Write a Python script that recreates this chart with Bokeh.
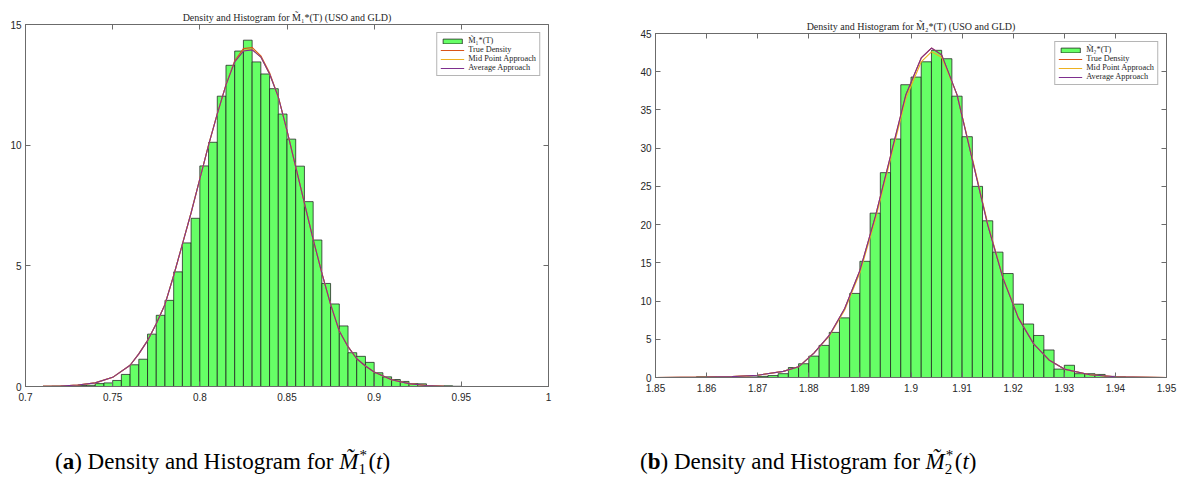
from bokeh.plotting import figure
from bokeh.models import (LinearAxis, Div, Legend, LegendItem, FixedTicker,
                          Range1d, CustomJSTickFormatter)
from bokeh.layouts import row, column
from bokeh.embed import file_html
from bokeh.resources import INLINE

# ---------------- Panel (a): M1 ----------------
m1_bin_width = 0.005
m1_bin_start = [0.710, 0.715, 0.720, 0.725, 0.730, 0.735, 0.740, 0.745, 0.750, 0.755,
                0.760, 0.765, 0.770, 0.775, 0.780, 0.785, 0.790, 0.795, 0.800, 0.805,
                0.810, 0.815, 0.820, 0.825, 0.830, 0.835, 0.840, 0.845, 0.850, 0.855,
                0.860, 0.865, 0.870, 0.875, 0.880, 0.885, 0.890, 0.895, 0.900, 0.905,
                0.910, 0.915, 0.920, 0.925, 0.930, 0.935, 0.940, 0.945]
m1_density = [0.01, 0.02, 0.01, 0.03, 0.04, 0.05, 0.12, 0.15, 0.25, 0.50,
              0.90, 1.13, 2.17, 2.95, 3.57, 4.75, 5.95, 6.97, 9.14, 10.12,
              12.03, 13.31, 13.90, 14.35, 13.45, 12.95, 12.34, 11.29, 10.25, 9.13,
              7.66, 6.07, 4.27, 3.42, 2.51, 1.40, 1.25, 1.00, 0.57, 0.40,
              0.29, 0.21, 0.12, 0.11, 0.02, 0.02, 0.03, 0.01]
m1_curve_x = [0.70, 0.71, 0.72, 0.73, 0.74, 0.75, 0.76, 0.765, 0.77, 0.775, 0.78, 0.785,
              0.79, 0.795, 0.80, 0.805, 0.81, 0.815, 0.82, 0.825, 0.83, 0.835, 0.84,
              0.845, 0.85, 0.855, 0.86, 0.865, 0.87, 0.875, 0.88, 0.885, 0.89, 0.895,
              0.90, 0.91, 0.92, 0.93, 0.94, 0.95, 1.00]
m1_true = [0.0, 0.005, 0.02, 0.06, 0.15, 0.38, 0.88, 1.35, 1.9, 2.6, 3.4, 4.6,
           5.9, 7.2, 8.6, 10.0, 11.3, 12.5, 13.5, 14.0, 14.05, 13.7, 13.0,
           12.0, 10.6, 9.1, 7.6, 6.1, 4.7, 3.4, 2.3, 1.65, 1.15, 0.85,
           0.6, 0.28, 0.12, 0.04, 0.01, 0.0, 0.0]
m1_mid = [0.0, 0.005, 0.02, 0.06, 0.15, 0.38, 0.88, 1.35, 1.9, 2.6, 3.4, 4.6,
          5.9, 7.2, 8.6, 10.0, 11.3, 12.5, 13.45, 13.92, 13.98, 13.65, 12.95,
          12.0, 10.6, 9.1, 7.6, 6.1, 4.7, 3.4, 2.3, 1.65, 1.15, 0.85,
          0.6, 0.28, 0.12, 0.04, 0.01, 0.0, 0.0]
m1_avg = [0.0, 0.005, 0.02, 0.06, 0.15, 0.38, 0.88, 1.35, 1.9, 2.6, 3.4, 4.6,
          5.9, 7.2, 8.6, 10.0, 11.3, 12.5, 13.45, 13.9, 13.95, 13.65, 12.95,
          12.0, 10.6, 9.1, 7.6, 6.1, 4.7, 3.4, 2.3, 1.65, 1.15, 0.85,
          0.6, 0.28, 0.12, 0.04, 0.01, 0.0, 0.0]
m1_xticks = [0.7, 0.75, 0.8, 0.85, 0.9, 0.95, 1.0]
m1_yticks = [0, 5, 10, 15]

# ---------------- Panel (b): M2 ----------------
m2_bin_width = 0.002
m2_bin_start = [1.858, 1.860, 1.862, 1.864, 1.866, 1.868, 1.870, 1.872, 1.874, 1.876,
                1.878, 1.880, 1.882, 1.884, 1.886, 1.888, 1.890, 1.892, 1.894, 1.896,
                1.898, 1.900, 1.902, 1.904, 1.906, 1.908, 1.910, 1.912, 1.914, 1.916,
                1.918, 1.920, 1.922, 1.924, 1.926, 1.928, 1.930, 1.932, 1.934, 1.936,
                1.938, 1.940]
m2_density = [0.1, 0.1, 0.0, 0.02, 0.05, 0.08, 0.15, 0.25, 0.5, 1.3,
              1.8, 2.8, 4.2, 5.9, 7.8, 11.0, 15.2, 21.5, 26.8, 31.2,
              38.3, 39.3, 41.3, 42.8, 41.7, 36.8, 31.5, 25.0, 20.5, 16.4,
              13.6, 9.6, 7.0, 5.5, 3.6, 1.1, 1.6, 0.5, 0.5, 0.4,
              0.15, 0.1]
m2_curve_x = [1.85, 1.86, 1.865, 1.87, 1.875, 1.878, 1.881, 1.884, 1.887, 1.89, 1.893,
              1.896, 1.899, 1.902, 1.904, 1.906, 1.909, 1.912, 1.915, 1.918, 1.921,
              1.924, 1.927, 1.93, 1.935, 1.94, 1.95]
m2_true = [0.0, 0.05, 0.12, 0.3, 0.8, 1.4, 3.2, 5.5, 9.0, 14.0, 21.0,
           29.0, 37.0, 41.8, 43.1, 42.2, 37.0, 28.5, 20.0, 13.0, 7.8,
           4.4, 2.3, 1.1, 0.35, 0.1, 0.0]
m2_mid = [0.0, 0.05, 0.12, 0.3, 0.8, 1.4, 3.2, 5.4, 8.8, 13.7, 20.6,
          28.6, 36.5, 41.3, 42.6, 41.9, 37.0, 28.7, 20.2, 13.1, 7.9,
          4.4, 2.3, 1.1, 0.35, 0.1, 0.0]
m2_avg = [0.0, 0.05, 0.12, 0.3, 0.8, 1.4, 3.2, 5.5, 9.0, 14.0, 21.0,
          29.0, 37.0, 41.8, 43.1, 42.2, 37.0, 28.5, 20.0, 13.0, 7.8,
          4.4, 2.3, 1.1, 0.35, 0.1, 0.0]
m2_xticks = [1.85, 1.86, 1.87, 1.88, 1.89, 1.9, 1.91, 1.92, 1.93, 1.94, 1.95]
m2_yticks = [0, 5, 10, 15, 20, 25, 30, 35, 40, 45]

SERIF = "Liberation Serif"
SANS = "Liberation Sans"
AX = "#6b6b6b"
TXT = "#262626"


def panel(title, hist_label, starts, dens, bw, cx, ctrue, cmid, cavg,
          xr, yr, xticks, yticks, width, height, borders):
    bl, br, bt, bb = borders
    p = figure(width=width, height=height, output_backend="svg",
               toolbar_location=None, x_range=Range1d(*xr), y_range=Range1d(*yr),
               min_border_left=bl, min_border_right=br, min_border_top=bt,
               min_border_bottom=bb)
    p.grid.visible = False
    p.outline_line_color = AX
    p.background_fill_color = "white"
    p.border_fill_color = "white"
    fmt = CustomJSTickFormatter(code="return String(Number(tick.toFixed(4)));")
    for ax, ticks in ((p.xaxis[0], xticks), (p.yaxis[0], yticks)):
        ax.ticker = FixedTicker(ticks=ticks)
        ax.formatter = fmt
        ax.major_tick_in = 5
        ax.major_tick_out = 0
        ax.minor_tick_line_color = None
        ax.axis_line_color = AX
        ax.major_tick_line_color = AX
        ax.major_label_text_font = SANS
        ax.major_label_text_font_size = "10px"
        ax.major_label_text_color = TXT
    p.xaxis.major_label_standoff = 6
    p.yaxis.major_label_standoff = 4
    for loc, ticks in (("above", xticks), ("right", yticks)):
        a = LinearAxis(ticker=FixedTicker(ticks=ticks), major_tick_in=5,
                       major_tick_out=0, minor_tick_line_color=None,
                       axis_line_color=None, major_tick_line_color=AX,
                       major_label_text_color=None, major_label_standoff=0)
        p.add_layout(a, loc)

    right = [s + bw for s in starts]
    rh = p.quad(left=starts, right=right, bottom=0, top=dens,
                fill_color="#66ff66", line_color="#1f1f1f", line_alpha=0.75,
                line_width=1)
    rt = p.line(cx, ctrue, line_color="#D95319", line_width=1.1)
    rm = p.line(cx, cmid, line_color="#EDB120", line_width=1.1)
    ra = p.line(cx, cavg, line_color="#7E2F8E", line_width=1.1)

    leg = Legend(items=[LegendItem(label=hist_label, renderers=[rh]),
                        LegendItem(label="True Density", renderers=[rt]),
                        LegendItem(label="Mid Point Approach", renderers=[rm]),
                        LegendItem(label="Average Approach", renderers=[ra])],
                 location="top_right")
    leg.label_text_font = SERIF
    leg.label_text_font_size = "8.3px"
    leg.label_text_line_height = 1.0
    leg.label_text_color = TXT
    leg.label_height = 7
    leg.glyph_height = 6
    leg.glyph_width = 24
    leg.label_standoff = 4
    leg.spacing = 0
    leg.padding = 3
    leg.margin = 8
    leg.border_line_color = AX
    leg.background_fill_alpha = 1.0
    p.add_layout(leg)

    p.title.text = title
    p.title.text_font = SERIF
    p.title.text_font_size = "10px"
    p.title.text_font_style = "normal"
    p.title.text_color = TXT
    p.title.align = "center"
    p.title.standoff = 4
    return p


p1 = panel("Density and Histogram for M\u0303\u2081*(T) (USO and GLD)",
           "M\u0303\u2081*(T)", m1_bin_start, m1_density, m1_bin_width,
           m1_curve_x, m1_true, m1_mid, m1_avg, (0.7, 1.0), (0, 15),
           m1_xticks, m1_yticks, 608, 408, (25, 60, 24, 22))
p2 = panel("Density and Histogram for M\u0303\u2082*(T) (USO and GLD)",
           "M\u0303\u2082*(T)", m2_bin_start, m2_density, m2_bin_width,
           m2_curve_x, m2_true, m2_mid, m2_avg, (1.85, 1.95), (0, 45),
           m2_xticks, m2_yticks, 578, 408, (47, 20, 33, 31))


def caption(letter, idx, pad_left, width):
    html = ('<div style="font-family:\'Liberation Serif\',serif;font-size:23px;'
            'color:#000;white-space:nowrap;padding-left:%dpx;padding-top:38px;">'
            '(<b>%s</b>) Density and Histogram for <i>M&#771;</i>'
            '<span style="display:inline-block;position:relative;width:10px;'
            'height:23px;vertical-align:baseline;">'
            '<span style="position:absolute;left:1px;top:3px;font-size:15px;'
            'line-height:13px;">*</span>'
            '<span style="position:absolute;left:0px;top:17px;font-size:15px;'
            'line-height:13px;">%s</span></span>(<i>t</i>)</div>') % (pad_left, letter, idx)
    return Div(text=html, width=width, height=75, margin=(0, 0, 0, 0))


c1 = caption("a", "1", 55, 608)
c2 = caption("b", "2", 32, 578)

layout = row(column(p1, c1), column(p2, c2))
open("out.html", "w").write(file_html(layout, INLINE))
